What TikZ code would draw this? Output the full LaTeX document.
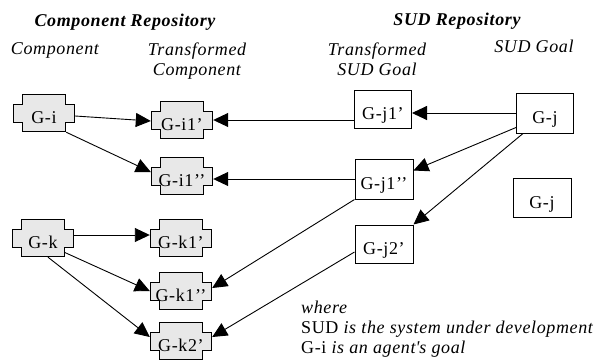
\documentclass[tikz,border=0pt]{standalone}
\usepackage{fontspec}
\setmainfont[LetterSpace=3.5]{Liberation Serif}
\usetikzlibrary{arrows.meta,calc}

\begin{document}
\begin{tikzpicture}[x=1pt, y=-1pt,
    every node/.style={font=\fontsize{18}{20}\selectfont},
    head/.style={font=\fontsize{18}{20}\selectfont\itshape, align=center, inner sep=0pt},
    goal/.style={draw, line width=1pt, minimum width=58pt, minimum height=39pt,
      inner sep=0pt, text height=21pt, text depth=0pt},
    comp/.style={minimum width=62pt, minimum height=38pt, inner sep=0pt,
      text height=21pt, text depth=0pt,
      path picture={
        \draw[line width=1pt, fill=black!9]
          ($(path picture bounding box.north west)+(9.5pt,-.5pt)$) -- ++(43pt,0pt)
          -- ++(0pt,-9.5pt) -- ++(9pt,0pt) -- ++(0pt,-18pt) -- ++(-9pt,0pt)
          -- ++(0pt,-9.5pt) -- ++(-43pt,0pt) -- ++(0pt,9.5pt) -- ++(-9pt,0pt)
          -- ++(0pt,18pt) -- ++(9pt,0pt) -- cycle;
      }},
    arr/.style={line width=.9pt, -{Triangle[length=15pt,width=14pt]}}]
  \useasboundingbox (0,0) rectangle (603,360);

  % headings
  \node[head, anchor=base, font=\fontsize{18}{20}\selectfont\bfseries\itshape] (comprepo) at (125,26) {Component Repository};
  \node[head, anchor=base, font=\fontsize{18}{20}\selectfont\bfseries\itshape] (sudrepo) at (457,25) {SUD Repository};
  \node[head, anchor=base] (comphead) at (55,54) {Component};
  \node[head] (transcomp) at (197,61) {Transformed\\Component};
  \node[head] (transsud) at (377,59) {Transformed\\SUD Goal};
  \node[head, anchor=base] (sudhead) at (534,52) {SUD Goal};

  % components
  \node[comp] (gi) at (44,113) {G-i};
  \node[comp] (gk) at (43,238) {G-k};
  \node[comp] (gi1a) at (182,120) {G-i1’};
  \node[comp] (gi1b) at (182,176) {G-i1’’};
  \node[comp] (gk1a) at (181,238) {G-k1’};
  \node[comp] (gk1b) at (181,291) {G-k1’’};
  \node[comp] (gk2) at (181,341) {G-k2’};

  % SUD goals
  \node[goal, minimum width=57pt, minimum height=38pt] (gj1a) at (383,109) {G-j1’};
  \node[goal, minimum width=57pt, minimum height=40pt] (gj) at (545,113) {G-j};
  \node[goal, minimum height=40pt] (gj1b) at (384,179) {G-j1’’};
  \node[goal, minimum height=38pt] (gj2) at (384,244) {G-j2’};
  \node[goal] (gjb) at (542,198) {G-j};

  % legend
  \node[anchor=north west, align=left, inner sep=0pt] (legend) at (301,301)
    {\textit{where}\\SUD \textit{is the system under development}\\G-i \textit{is an agent\textquotesingle s goal}};

  % connectors
  \draw[arr] ([yshift=-3pt]gi.east) -- ([yshift=-1pt]gi1a.west);
  \draw[arr] ([xshift=-9pt]gi.south east) -- ([yshift=4pt]gi1b.west);
  \draw[arr] (gj1a.west |- gi1a.east) -- (gi1a.east);
  \draw[arr] (gj.west) -- (gj.west -| gj1a.east);
  \draw[arr] (gj1b.west) -- (gj1b.west -| gi1b.east);
  \draw[arr] ([yshift=6pt]gj.south west) -- ([yshift=-12pt]gj1b.north east);
  \draw[arr] ([xshift=7pt]gj.south west) -- (gj2.north east);
  \draw[arr] (gj1b.south west) -- ([yshift=3pt]gk1b.east);
  \draw[arr, {Triangle[length=15pt,width=14pt]}-] ([yshift=4pt]gk2.east) -- ([yshift=-8pt]gj2.west);
  \draw[arr] ([yshift=3pt]gk.east) -- ([yshift=3pt]gk1a.west);
  \draw[arr] ([xshift=-10pt,yshift=5pt]gk.south east) -- (gk1b.west);
  \draw[arr] ([xshift=5pt]gk.south) -- ([yshift=4pt]gk2.west);
\end{tikzpicture}
\end{document}
